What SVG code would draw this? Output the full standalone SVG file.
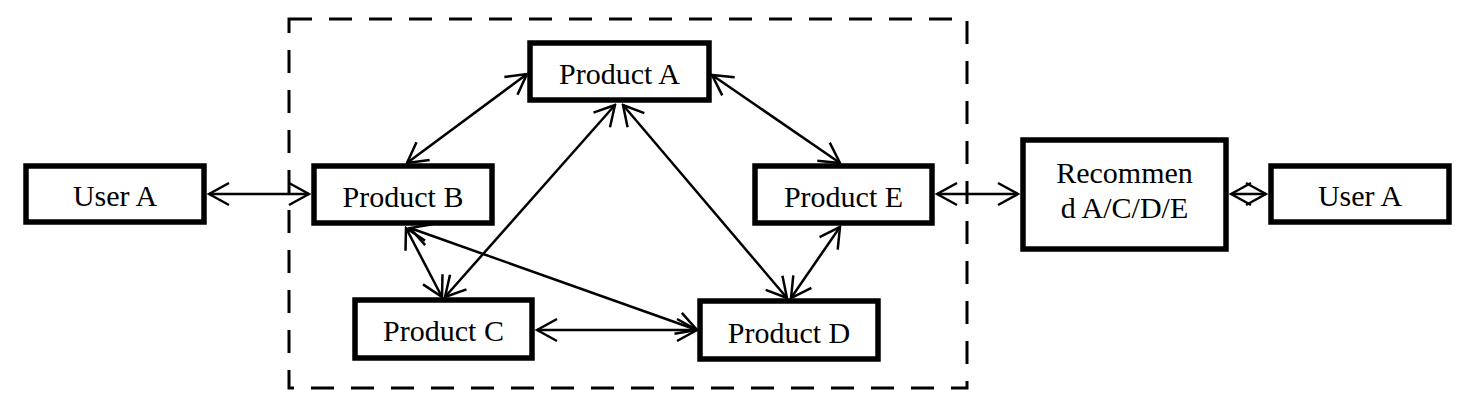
<svg xmlns="http://www.w3.org/2000/svg" width="1468" height="413" viewBox="0 0 1468 413">
<defs>
<style>
.box{fill:#fff;stroke:#000;stroke-width:5.5}
.lbl{font-family:"Liberation Serif","Times New Roman",serif;font-size:30px;fill:#000;text-anchor:middle}
.con{stroke:#000;stroke-width:2.5;fill:none;marker-start:url(#ah);marker-end:url(#ah)}
</style>
<marker id="ah" markerUnits="userSpaceOnUse" viewBox="-23 -13 25 26" markerWidth="25" markerHeight="26" refX="0" refY="0" orient="auto-start-reverse">
<path d="M-20,-11 L0,0 L-20,11" fill="none" stroke="#000" stroke-width="2.5"/>
</marker>
</defs>
<rect id="boundary" x="289" y="19" width="678" height="369" fill="none" stroke="#000" stroke-width="3" stroke-dasharray="23 17"/>
<g id="connectors">
<line class="con" x1="209" y1="194" x2="309" y2="194"/>
<line class="con" x1="407" y1="163" x2="527" y2="74"/>
<line class="con" x1="615" y1="105" x2="445" y2="297"/>
<line class="con" x1="623" y1="105" x2="787" y2="298"/>
<line class="con" x1="712" y1="75" x2="840" y2="163"/>
<line class="con" x1="406" y1="228" x2="442" y2="297"/>
<line class="con" x1="410" y1="228" x2="697" y2="330"/>
<line class="con" x1="537" y1="330" x2="697" y2="330"/>
<line class="con" x1="840" y1="227" x2="791" y2="298"/>
<line class="con" x1="937" y1="194" x2="1018" y2="194"/>
<line class="con" x1="1231" y1="194" x2="1266" y2="194"/>
</g>
<g id="userA-left"><rect class="box" x="26" y="166" width="178" height="56"/><text class="lbl" x="115" y="206">User A</text></g>
<g id="productA"><rect class="box" x="530" y="43" width="179" height="57"/><text class="lbl" x="619.5" y="84">Product A</text></g>
<g id="productB"><rect class="box" x="314" y="166" width="178" height="57"/><text class="lbl" x="403" y="207">Product B</text></g>
<g id="productC"><rect class="box" x="355" y="300" width="177" height="58"/><text class="lbl" x="443.5" y="341">Product C</text></g>
<g id="productD"><rect class="box" x="700" y="301" width="178" height="58"/><text class="lbl" x="789" y="343">Product D</text></g>
<g id="productE"><rect class="box" x="755" y="166" width="177" height="57"/><text class="lbl" x="843.5" y="207">Product E</text></g>
<g id="recommend"><rect class="box" x="1023" y="140" width="203" height="109"/><text class="lbl" x="1124.5" y="183">Recommen</text><text class="lbl" x="1124.5" y="218">d A/C/D/E</text></g>
<g id="userA-right"><rect class="box" x="1271" y="166" width="178" height="56"/><text class="lbl" x="1360" y="206">User A</text></g>
</svg>
